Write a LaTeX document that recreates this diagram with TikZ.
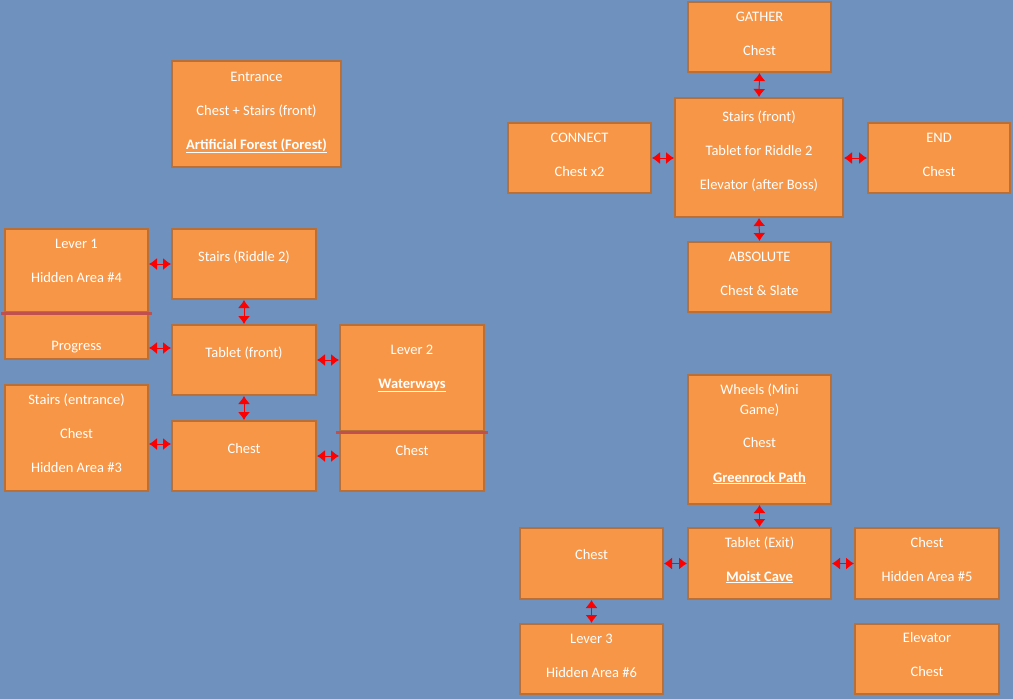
\documentclass[tikz,border=0pt]{standalone}
\usepackage{fontspec}
\setmainfont{Carlito}
\usepackage{tikz}
\usetikzlibrary{positioning,arrows.meta}

\definecolor{bgblue}{RGB}{111,145,190}
\definecolor{roomfill}{RGB}{247,150,70}
\definecolor{roomedge}{RGB}{184,112,56}
\definecolor{sepred}{RGB}{192,80,77}

\tikzset{
  room/.style={draw=roomedge, fill=roomfill, line width=2pt, text=white,
    align=center, inner sep=0pt, minimum width=143pt,
    font=\fontsize{14.5}{34}\selectfont},
  conn/.style={draw=red, line width=1pt,
    {Latex[length=8pt,width=12pt]}-{Latex[length=8pt,width=12pt]}},
  sepline/.style={draw=sepred, line width=3pt}
}

\begin{document}
\begin{tikzpicture}[x=1pt, y=-1pt]
  \fill[bgblue] (0,0) rectangle (1013,699);
  \useasboundingbox (0,0) rectangle (1013,699);

  % left part
  \node[room, minimum width=169pt, text height=88pt, text depth=18pt] (entrance) at (256.5,114)
    {Entrance\\Chest + Stairs (front)\\\underline{\textbf{Artificial Forest (Forest)}}};
  \node[room, text height=53pt, text depth=30pt] (lever1) at (76.5,270.5) {Lever 1\\Hidden Area \#4};
  \node[room, text height=36pt, text depth=9pt] (progress) at (76.5,336.5) {Progress};
  \node[room, minimum width=144pt, text height=32pt, text depth=38pt] (stairs2) at (244,264) {Stairs (Riddle 2)};
  \node[room, minimum width=144pt, text height=32pt, text depth=38pt] (tablet) at (244,360) {Tablet (front)};
  \node[room, minimum width=144pt, text height=32pt, text depth=38pt] (chestm) at (244,456) {Chest};
  \node[room, minimum width=144pt, text height=63pt, text depth=43pt] (lever2) at (412,378)
    {Lever 2\\\underline{\textbf{Waterways}}};
  \node[room, minimum width=144pt, text height=22pt, text depth=36pt] (chest2) at (412,462) {Chest};
  \node[room, text height=87pt, text depth=19pt] (stairsE) at (76.5,438)
    {Stairs (entrance)\\Chest\\Hidden Area \#3};

  \draw[sepline] ([xshift=-3pt]lever1.south west) -- ([xshift=3pt]lever1.south east);
  \draw[sepline] ([xshift=-3pt]lever2.south west) -- ([xshift=3pt]lever2.south east);

  \draw[conn] (stairs2.west -| lever1.east) -- (stairs2.west);
  \draw[conn] ([yshift=12pt]tablet.west -| progress.east) -- ([yshift=12pt]tablet.west);
  \draw[conn] (stairs2.south) -- (tablet.north);
  \draw[conn] (tablet.east) -- (tablet.east -| lever2.west);
  \draw[conn] (tablet.south) -- (chestm.north);
  \draw[conn] ([yshift=-6pt]stairsE.east) -- ([yshift=-6pt]stairsE.east -| chestm.west);
  \draw[conn] (chestm.east) -- (chestm.east -| chest2.west);

  % top right
  \node[room, text height=53pt, text depth=17pt] (gather) at (759.5,37) {GATHER\\Chest};
  \node[room, minimum width=168pt, text height=91pt, text depth=28pt] (stairsF) at (759,157.5)
    {Stairs (front)\\Tablet for Riddle 2\\Elevator (after Boss)};
  \node[room, text height=53pt, text depth=17pt] (connect) at (579.5,158) {CONNECT\\Chest x2};
  \node[room, minimum width=142pt, text height=53pt, text depth=17pt] (endroom) at (939,158) {END\\Chest};
  \node[room, text height=53pt, text depth=17pt] (absolute) at (759.5,277) {ABSOLUTE\\Chest \& Slate};

  \draw[conn] (gather.south) -- (stairsF.north);
  \draw[conn] (connect.east) -- (connect.east -| stairsF.west);
  \draw[conn] (endroom.west -| stairsF.east) -- (endroom.west);
  \draw[conn] (stairsF.south) -- (absolute.north);

  % bottom right
  \node[room, text height=107pt, text depth=22pt] (wheels) at (759.5,439.5)
    {Wheels (Mini\\[-14pt]Game)\\[-1pt]Chest\\[1pt]\underline{\textbf{Greenrock Path}}};
  \node[room, text height=53pt, text depth=18pt] (tabexit) at (759.5,563.5)
    {Tablet (Exit)\\\underline{\textbf{Moist Cave}}};
  \node[room, minimum width=144pt, text height=53pt, text depth=18pt] (chest5) at (927,563.5)
    {Chest\\Hidden Area \#5};
  \node[room, text height=31pt, text depth=40pt] (chestl) at (591.5,563.5) {Chest};
  \node[room, text height=53pt, text depth=17pt] (lever3) at (591.5,659) {Lever 3\\Hidden Area \#6};
  \node[room, minimum width=144pt, text height=52pt, text depth=18pt] (elevator) at (927,659)
    {Elevator\\Chest};

  \draw[conn] (wheels.south) -- (tabexit.north);
  \draw[conn] (chestl.east) -- (tabexit.west);
  \draw[conn] (tabexit.east) -- (chest5.west);
  \draw[conn] (chestl.south) -- (lever3.north);
\end{tikzpicture}
\end{document}
